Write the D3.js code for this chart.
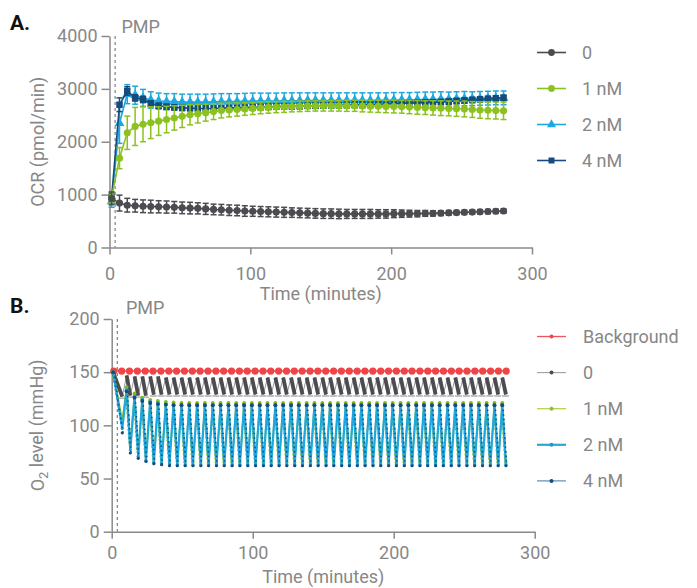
<!DOCTYPE html>
<html><head><meta charset="utf-8">
<script src="https://cdn.jsdelivr.net/npm/d3@7"></script>
<style>body{margin:0;background:#fff}svg{display:block;font-family:Roboto,"Noto Sans",sans-serif}</style>
</head><body>
<script>
// ---------------- DATA ----------------
const xTicks = [0, 100, 200, 300];
const yTicksA = [0, 1000, 2000, 3000, 4000];
const yTicksB = [0, 50, 100, 150, 200];
const pmpTime = 4;

// Panel A: measurement times (min)
const tA = [1.5, 7.1, 12.6, 18.2, 23.8, 29.3, 34.9, 40.5, 46.0, 51.6,
  57.2, 62.7, 68.3, 73.9, 79.4, 85.0, 90.6, 96.1, 101.7, 107.3,
  112.8, 118.4, 124.0, 129.5, 135.1, 140.7, 146.2, 151.8, 157.4, 162.9,
  168.5, 174.1, 179.6, 185.2, 190.8, 196.3, 201.9, 207.5, 213.0, 218.6,
  224.2, 229.7, 235.3, 240.9, 246.4, 252.0, 257.6, 263.1, 268.7, 274.3,
  279.8];
const ocr0 = [930, 840, 800, 790, 780, 775, 770, 765, 760, 750,
  745, 740, 730, 720, 715, 705, 700, 690, 685, 680,
  675, 670, 665, 660, 655, 650, 645, 640, 640, 635,
  635, 635, 635, 635, 635, 635, 640, 640, 640, 640,
  645, 645, 650, 655, 660, 665, 670, 675, 680, 685,
  690];
const ocr0Err = [120, 150, 130, 120, 120, 120, 115, 115, 110, 110,
  110, 105, 105, 100, 100, 100, 100, 100, 95, 95,
  95, 95, 95, 90, 90, 90, 90, 90, 90, 90,
  85, 85, 85, 85, 80, 80, 75, 70, 65, 60,
  55, 50, 45, 45, 40, 40, 40, 40, 40, 40,
  40];
const ocr1 = [950, 1690, 2170, 2290, 2330, 2360, 2390, 2420, 2450, 2480,
  2510, 2530, 2550, 2570, 2590, 2600, 2610, 2620, 2630, 2640,
  2650, 2655, 2660, 2665, 2670, 2675, 2680, 2680, 2680, 2680,
  2680, 2680, 2675, 2670, 2670, 2665, 2665, 2660, 2655, 2650,
  2645, 2640, 2635, 2630, 2625, 2620, 2610, 2600, 2595, 2590,
  2585];
const ocr1Err = [100, 200, 315, 360, 330, 300, 270, 250, 230, 210,
  190, 175, 160, 150, 140, 130, 125, 120, 115, 110,
  110, 105, 105, 100, 100, 100, 100, 100, 100, 100,
  105, 105, 110, 110, 115, 115, 120, 120, 125, 130,
  130, 135, 140, 140, 145, 150, 150, 155, 160, 160,
  165];
const ocr2 = [870, 2350, 2900, 2880, 2830, 2790, 2770, 2760, 2760, 2750,
  2750, 2750, 2750, 2755, 2760, 2760, 2760, 2765, 2770, 2770,
  2770, 2770, 2775, 2775, 2775, 2780, 2780, 2780, 2780, 2780,
  2780, 2780, 2780, 2780, 2785, 2785, 2790, 2790, 2790, 2795,
  2800, 2800, 2805, 2805, 2810, 2815, 2815, 2820, 2825, 2830,
  2830];
const ocr2Err = [110, 380, 180, 170, 160, 155, 150, 150, 150, 150,
  150, 150, 150, 150, 150, 150, 150, 150, 150, 150,
  150, 150, 150, 150, 150, 145, 145, 145, 145, 145,
  145, 145, 145, 145, 140, 140, 140, 140, 140, 140,
  140, 140, 140, 135, 135, 135, 130, 130, 130, 130,
  130];
const ocr4 = [950, 2700, 2960, 2830, 2800, 2720, 2680, 2660, 2650, 2640,
  2635, 2630, 2630, 2630, 2635, 2640, 2640, 2645, 2650, 2655,
  2660, 2665, 2670, 2670, 2675, 2680, 2680, 2685, 2690, 2690,
  2695, 2700, 2700, 2705, 2710, 2715, 2720, 2725, 2730, 2735,
  2740, 2745, 2750, 2760, 2770, 2780, 2790, 2800, 2810, 2820,
  2830];
const ocr4Err = [80, 130, 80, 60, 60, 55, 50, 50, 50, 50,
  50, 50, 50, 50, 50, 50, 50, 50, 50, 50,
  50, 50, 50, 50, 50, 50, 50, 50, 50, 50,
  50, 50, 50, 50, 50, 50, 50, 50, 50, 50,
  50, 50, 50, 50, 50, 50, 50, 50, 50, 50,
  50];

// Panel B: O2 level cycles (top = start of measurement, bottom = end)
const tTopB = [1.0, 10.6, 16.2, 21.7, 27.3, 32.8, 38.4, 43.9, 49.5, 55.0,
  60.6, 66.1, 71.7, 77.2, 82.8, 88.3, 93.9, 99.4, 105.0, 110.5,
  116.1, 121.6, 127.2, 132.7, 138.3, 143.8, 149.4, 154.9, 160.5, 166.0,
  171.6, 177.1, 182.7, 188.2, 193.8, 199.3, 204.9, 210.4, 216.0, 221.5,
  227.1, 232.6, 238.2, 243.7, 249.3, 254.8, 260.4, 265.9, 271.5, 277.0];
const tBotB = [7.5, 13.2, 18.8, 24.3, 29.9, 35.4, 41.0, 46.5, 52.1, 57.6,
  63.2, 68.7, 74.3, 79.8, 85.4, 90.9, 96.5, 102.0, 107.6, 113.1,
  118.7, 124.2, 129.8, 135.3, 140.9, 146.4, 152.0, 157.5, 163.1, 168.6,
  174.2, 179.7, 185.3, 190.8, 196.4, 201.9, 207.5, 213.0, 218.6, 224.1,
  229.7, 235.2, 240.8, 246.3, 251.9, 257.4, 263.0, 268.5, 274.1, 279.6];
const o2Bg = [151, 151, 151, 151, 151, 151, 151, 151, 151, 151,
  151, 151, 151, 151, 151, 151, 151, 151, 151, 151,
  151, 151, 151, 151, 151, 151, 151, 151, 151, 151,
  151, 151, 151, 151, 151, 151, 151, 151, 151, 151,
  151, 151, 151, 151, 151, 151, 151, 151, 151, 151,
  151];
const o2Top0 = [150, 147, 146, 146, 146, 146, 145, 145, 145, 145,
  145, 145, 145, 145, 145, 145, 145, 145, 145, 145,
  145, 145, 145, 145, 145, 145, 145, 145, 145, 145,
  145, 145, 145, 145, 145, 145, 145, 145, 145, 145,
  145, 145, 145, 145, 145, 145, 145, 145, 145, 145];
const o2Bot0 = [127, 128, 128, 128, 129, 129, 129, 129, 129, 129,
  129, 129, 129, 129, 129, 129, 129, 129, 129, 129,
  129, 129, 129, 129, 129, 129, 129, 129, 129, 129,
  129, 129, 129, 129, 129, 129, 129, 129, 129, 129,
  129, 129, 129, 129, 129, 129, 129, 129, 129, 129];
const o2Top1 = [150, 136, 130, 126, 124, 123, 122, 121.5, 121, 121,
  121, 121, 121, 121, 121, 121, 121, 121, 121, 121,
  121, 121, 121, 121, 121, 121, 121, 121, 121, 121,
  121, 121, 121, 121, 121, 121, 121, 121, 121, 121,
  121, 121, 121, 121, 121, 121, 121, 121, 121, 121];
const o2Bot1 = [105, 82, 75, 71, 68, 67, 66, 66, 65, 65,
  65, 65, 65, 65, 65, 65, 65, 65, 65, 65,
  65, 65, 65, 65, 65, 65, 65, 65, 65, 65,
  65, 65, 65, 65, 65, 65, 65, 65, 65, 65,
  65, 65, 65, 65, 65, 65, 65, 65, 65, 65];
const o2Top2 = [150, 133, 127, 124, 122, 121, 120, 119.5, 119, 119,
  119, 119, 119, 119, 119, 119, 119, 119, 119, 119,
  119, 119, 119, 119, 119, 119, 119, 119, 119, 119,
  119, 119, 119, 119, 119, 119, 119, 119, 119, 119,
  119, 119, 119, 119, 119, 119, 119, 119, 119, 119];
const o2Bot2 = [97, 77, 71, 67, 65, 64, 64, 63, 63, 63,
  63, 63, 63, 63, 63, 63, 63, 63, 63, 63,
  63, 63, 63, 63, 63, 63, 63, 63, 63, 63,
  63, 63, 63, 63, 63, 63, 63, 63, 63, 63,
  63, 63, 63, 63, 63, 63, 63, 63, 63, 63];
const o2Top4 = [150, 132, 126, 123, 121, 120, 119.5, 119, 119, 119,
  119, 119, 119, 119, 119, 119, 119, 119, 119, 119,
  119, 119, 119, 119, 119, 119, 119, 119, 119, 119,
  119, 119, 119, 119, 119, 119, 119, 119, 119, 119,
  119, 119, 119, 119, 119, 119, 119, 119, 119, 119];
const o2Bot4 = [93, 74, 69, 66, 64, 63, 62, 62, 62, 62,
  62, 62, 62, 62, 62, 62, 62, 62, 62, 62,
  62, 62, 62, 62, 62, 62, 62, 62, 62, 62,
  62, 62, 62, 62, 62, 62, 62, 62, 62, 62,
  62, 62, 62, 62, 62, 62, 62, 62, 62, 62];

const legendA = ["0", "1 nM", "2 nM", "4 nM"];
const legendB = ["Background", "0", "1 nM", "2 nM", "4 nM"];

// ---------------- STYLE ----------------
const C = {gray: "#4b4b50", green: "#8cc21f", cyan: "#1ea8e0", navy: "#164c7c", red: "#f04447"};
const TXT = "#878787", AX = "#8a8a8a", FS = 18;

const svg = d3.select("body").append("svg").attr("width", 697).attr("height", 588);

function styleAxis(g) {
  g.select(".domain").attr("stroke", AX).attr("stroke-width", 1.5);
  g.selectAll(".tick line").attr("stroke", AX).attr("stroke-width", 1.5);
  g.selectAll(".tick text").attr("fill", TXT).style("font-size", FS + "px").style("font-family", "Roboto");
}
const fmt = d3.format("d");

// ================= PANEL A =================
const xA = d3.scaleLinear().domain([0, 300]).range([109.5, 532]);
const yA = d3.scaleLinear().domain([0, 4000]).range([247.5, 36]);

const gA = svg.append("g");
gA.append("g").attr("transform", `translate(0,${yA(0)})`)
  .call(d3.axisBottom(xA).tickValues(xTicks).tickFormat(fmt).tickSize(7).tickPadding(13).tickSizeOuter(0))
  .call(styleAxis);
gA.append("g").attr("transform", `translate(${xA(0)},0)`)
  .call(d3.axisLeft(yA).tickValues(yTicksA).tickFormat(fmt).tickSize(8).tickPadding(4).tickSizeOuter(0))
  .call(styleAxis);

gA.append("line").attr("x1", xA(pmpTime)).attr("x2", xA(pmpTime)).attr("y1", yA(4000)).attr("y2", yA(0))
  .attr("stroke", AX).attr("stroke-width", 1.3).attr("stroke-dasharray", "3,3");
gA.append("text").attr("x", 121.5).attr("y", 32.5).text("PMP").attr("fill", TXT).style("font-size", FS + "px");
svg.append("text").attr("x", 10).attr("y", 29.5).text("A.").style("font-size", "21px").style("font-weight", 700).attr("fill", "#111");
gA.append("text").attr("transform", `translate(44,${(yA(0) + yA(4000)) / 2}) rotate(-90)`).attr("text-anchor", "middle")
  .text("OCR (pmol/min)").attr("fill", TXT).style("font-size", FS + "px");
gA.append("text").attr("x", (xA(0) + xA(300)) / 2).attr("y", 299.5).attr("text-anchor", "middle")
  .text("Time (minutes)").attr("fill", TXT).style("font-size", FS + "px");

const seriesA = [
  {name: "2 nM", v: ocr2, e: ocr2Err, c: C.cyan, sym: d3.symbolTriangle, size: 42},
  {name: "4 nM", v: ocr4, e: ocr4Err, c: C.navy, sym: d3.symbolSquare, size: 42},
  {name: "1 nM", v: ocr1, e: ocr1Err, c: C.green, sym: d3.symbolCircle, size: 40},
  {name: "0", v: ocr0, e: ocr0Err, c: C.gray, sym: d3.symbolCircle, size: 40}
];
const lineA = d3.line().x(d => xA(d.t)).y(d => yA(d.v));
seriesA.forEach(s => {
  const pts = tA.map((t, i) => ({t, v: s.v[i], e: s.e[i]}));
  const g = gA.append("g");
  const eb = g.selectAll("g.eb").data(pts).join("g").attr("stroke", s.c).attr("stroke-width", 1.5);
  eb.append("line").attr("x1", d => xA(d.t)).attr("x2", d => xA(d.t)).attr("y1", d => yA(d.v - d.e)).attr("y2", d => yA(d.v + d.e));
  eb.append("line").attr("x1", d => xA(d.t) - 3).attr("x2", d => xA(d.t) + 3).attr("y1", d => yA(d.v + d.e)).attr("y2", d => yA(d.v + d.e));
  eb.append("line").attr("x1", d => xA(d.t) - 3).attr("x2", d => xA(d.t) + 3).attr("y1", d => yA(d.v - d.e)).attr("y2", d => yA(d.v - d.e));
  g.append("path").datum(pts).attr("d", lineA).attr("fill", "none").attr("stroke", s.c).attr("stroke-width", 1.6);
  g.selectAll("path.m").data(pts).join("path").attr("class", "m")
    .attr("d", d3.symbol().type(s.sym).size(s.size))
    .attr("transform", d => `translate(${xA(d.t)},${yA(d.v)})`).attr("fill", s.c);
});

// legend A
const legColA = {"0": C.gray, "1 nM": C.green, "2 nM": C.cyan, "4 nM": C.navy};
const legSymA = {"0": d3.symbolCircle, "1 nM": d3.symbolCircle, "2 nM": d3.symbolTriangle, "4 nM": d3.symbolSquare};
const lgA = svg.append("g").selectAll("g").data(legendA).join("g")
  .attr("transform", (d, i) => `translate(537,${52.5 + i * 36})`);
lgA.append("line").attr("x1", 0).attr("x2", 29).attr("stroke", d => legColA[d]).attr("stroke-width", 1.6);
lgA.append("path").attr("d", d => d3.symbol().type(legSymA[d]).size(36)()).attr("transform", "translate(14.5,0)").attr("fill", d => legColA[d]);
lgA.append("text").attr("x", 45).attr("dy", "0.35em").text(d => d).attr("fill", TXT).style("font-size", FS + "px");

// ================= PANEL B =================
const xB = d3.scaleLinear().domain([0, 300]).range([111.7, 534.7]);
const yB = d3.scaleLinear().domain([0, 200]).range([531.7, 319]);
const gB = svg.append("g");
gB.append("g").attr("transform", `translate(0,${yB(0)})`)
  .call(d3.axisBottom(xB).tickValues(xTicks).tickFormat(fmt).tickSize(7).tickPadding(8).tickSizeOuter(0))
  .call(styleAxis);
gB.append("g").attr("transform", `translate(${xB(0)},0)`)
  .call(d3.axisLeft(yB).tickValues(yTicksB).tickFormat(fmt).tickSize(8).tickPadding(4).tickSizeOuter(0))
  .call(styleAxis);
gB.append("line").attr("x1", xB(pmpTime)).attr("x2", xB(pmpTime)).attr("y1", yB(200)).attr("y2", yB(0))
  .attr("stroke", AX).attr("stroke-width", 1.3).attr("stroke-dasharray", "3,3");
gB.append("text").attr("x", 126).attr("y", 314).text("PMP").attr("fill", TXT).style("font-size", FS + "px");
svg.append("text").attr("x", 10).attr("y", 313).text("B.").style("font-size", "21px").style("font-weight", 700).attr("fill", "#111");
const yl = gB.append("text").attr("transform", `translate(44,${(yB(0) + yB(200)) / 2}) rotate(-90)`).attr("text-anchor", "middle")
  .attr("fill", TXT).style("font-size", FS + "px");
yl.append("tspan").text("O");
yl.append("tspan").text("2").attr("dy", "0.3em").style("font-size", "13px");
yl.append("tspan").text(" level (mmHg)").attr("dy", "-0.3em");
gB.append("text").attr("x", (xB(0) + xB(300)) / 2).attr("y", 582.5).attr("text-anchor", "middle")
  .text("Time (minutes)").attr("fill", TXT).style("font-size", FS + "px");

// background
gB.append("path").datum(tA.map((t, i) => ({t, v: o2Bg[i]})))
  .attr("d", d3.line().x(d => xB(d.t)).y(d => yB(d.v))).attr("fill", "none").attr("stroke", C.red).attr("stroke-width", 1.5);
gB.selectAll("circle.bg").data(tA.map((t, i) => ({t, v: o2Bg[i]}))).join("circle")
  .attr("cx", d => xB(d.t)).attr("cy", d => yB(d.v)).attr("r", 3.6).attr("fill", C.red);

function cycles(top, bot) {
  const pts = [];
  tTopB.forEach((t, i) => { pts.push({t, v: top[i]}); pts.push({t: tBotB[i], v: bot[i]}); });
  return pts;
}
const lineB = d3.line().x(d => xB(d.t)).y(d => yB(d.v));

// series 0 (gray)
{
  const pts = cycles(o2Top0, o2Bot0);
  const g = gB.append("g");
  g.append("path").datum(pts).attr("d", lineB).attr("fill", "none").attr("stroke", "#9a9a9a").attr("stroke-width", 1);
  g.selectAll("line.d").data(tTopB).join("line")
    .attr("x1", (t, i) => xB(t)).attr("y1", (t, i) => yB(o2Top0[i]))
    .attr("x2", (t, i) => xB(tBotB[i])).attr("y2", (t, i) => yB(o2Bot0[i]))
    .attr("stroke", C.gray).attr("stroke-width", 3.8);
  g.selectAll("line.cap").data(tTopB).join("line")
    .attr("x1", (t, i) => xB(tBotB[i]) - 4).attr("x2", (t, i) => xB(tBotB[i]) + 3)
    .attr("y1", (t, i) => yB(o2Bot0[i]) + 1.5).attr("y2", (t, i) => yB(o2Bot0[i]) + 1.5)
    .attr("stroke", "#9a9a9a").attr("stroke-width", 1.2);
}

const seriesB = [
  {top: o2Top1, bot: o2Bot1, c: C.green, lw: 1.6, dot: "#84bb12", dw: 2.2},
  {top: o2Top2, bot: o2Bot2, c: C.cyan, lw: 2.2, dot: "#1b9fd6", dw: 2.2},
  {top: o2Top4, bot: o2Bot4, c: C.navy, lw: 0, dot: C.navy, dw: 1.6}
];
seriesB.forEach((s, k) => {
  const pts = cycles(s.top, s.bot);
  const g = gB.append("g");
  if (s.lw > 0) g.append("path").datum(pts).attr("d", lineB).attr("fill", "none").attr("stroke", s.c).attr("stroke-width", s.lw);
  g.selectAll("line.d").data(tTopB).join("line")
    .attr("x1", (t, i) => xB(t) + (k - 1) * 0.7).attr("y1", (t, i) => yB(s.top[i]))
    .attr("x2", (t, i) => xB(tBotB[i]) + (k - 1) * 0.7).attr("y2", (t, i) => yB(s.bot[i]))
    .attr("stroke", s.dot).attr("stroke-width", s.dw).attr("stroke-dasharray", k === 2 ? "1.4,3.2" : "2,2.2");
  g.selectAll("circle.t").data(tTopB).join("circle")
    .attr("cx", (t, i) => xB(t)).attr("cy", (t, i) => yB(s.top[i])).attr("r", 1.9).attr("fill", s.dot);
  g.selectAll("circle.b").data(tTopB).join("circle")
    .attr("cx", (t, i) => xB(tBotB[i])).attr("cy", (t, i) => yB(s.bot[i])).attr("r", 1.6).attr("fill", s.dot);
});

// legend B
const legB = {
  "Background": {lc: "#ee5558", mc: C.red, lw: 1.3},
  "0": {lc: "#a0a0a0", mc: C.gray, lw: 1.1},
  "1 nM": {lc: "#a9d24a", mc: C.green, lw: 1.2},
  "2 nM": {lc: "#2aa6d8", mc: "#1e96c8", lw: 2.2},
  "4 nM": {lc: "#5a8cb5", mc: C.navy, lw: 1.2}
};
const lgB = svg.append("g").selectAll("g").data(legendB).join("g")
  .attr("transform", (d, i) => `translate(537,${336.5 + i * 36.1})`);
lgB.append("line").attr("x1", 0).attr("x2", 29).attr("stroke", d => legB[d].lc).attr("stroke-width", d => legB[d].lw);
lgB.append("circle").attr("cx", 14.5).attr("r", 2).attr("fill", d => legB[d].mc);
lgB.append("text").attr("x", 46).attr("dy", "0.35em").text(d => d).attr("fill", TXT).style("font-size", FS + "px");
</script>
</body></html>
